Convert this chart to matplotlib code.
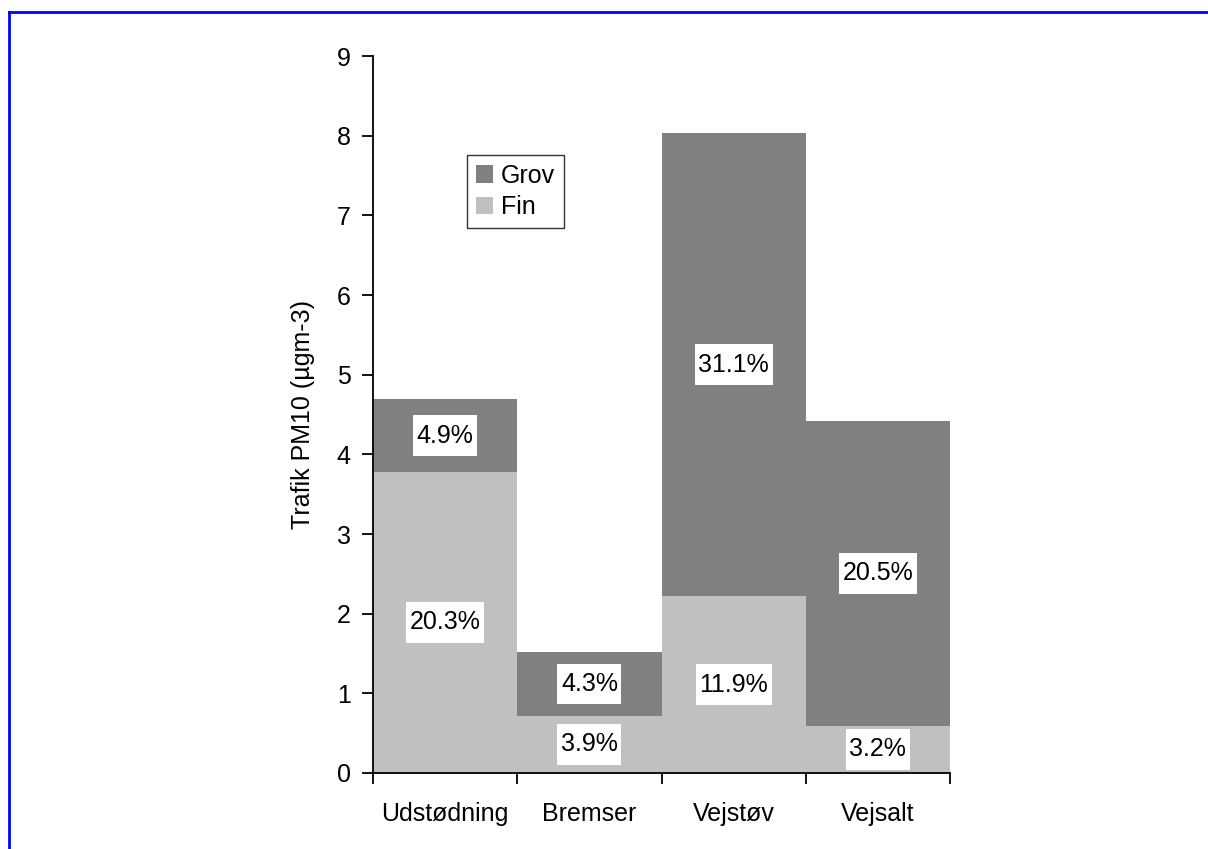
import matplotlib
matplotlib.use("Agg")
import matplotlib.pyplot as plt
from matplotlib.lines import Line2D
from matplotlib.path import Path
import numpy as np

plt.rcParams['font.family'] = ['Liberation Sans', 'DejaVu Sans']

# Traffic PM10 contributions per source (µg/m3)
sources = ["Udstødning", "Bremser", "Vejstøv", "Vejsalt"]
fin = [3.78, 0.72, 2.22, 0.59]
grov = [0.91, 0.80, 5.81, 3.83]

col_fin = "#C0C0C0"
col_grov = "#808080"
fs = 18


def label_box(x0, y0, width, height, mutation_size):
    """Square box, narrow at the sides and roomier above and below."""
    px = 0.14 * mutation_size
    py = 0.33 * mutation_size
    x0, y0 = x0 - px, y0 - py
    x1, y1 = x0 + width + 2 * px, y0 + height + 2 * py
    return Path([(x0, y0), (x1, y0), (x1, y1), (x0, y1), (x0, y0)],
                [Path.MOVETO, Path.LINETO, Path.LINETO, Path.LINETO, Path.CLOSEPOLY])


fig = plt.figure(figsize=(12.08, 8.49), dpi=100)
ax = fig.add_axes([373 / 1208, 1 - 773 / 849, 577 / 1208, 717 / 849])

x = np.arange(len(sources))
b_fin = ax.bar(x, fin, width=1.0, color=col_fin, label="Fin", linewidth=0)
b_grov = ax.bar(x, grov, width=1.0, bottom=fin, color=col_grov, label="Grov", linewidth=0)

# Share of total, printed at the middle of each segment
total = sum(fin) + sum(grov)
for i in range(len(sources)):
    for bottom, h in ((0, fin[i]), (fin[i], grov[i])):
        ax.text(x[i], bottom + h / 2, f"{h / total * 100:.1f}%", ha="center", va="center",
                fontsize=fs, color="black",
                bbox=dict(boxstyle=label_box, facecolor="white", edgecolor="none"))

ax.set_xlim(-0.5, len(sources) - 0.5)
ax.set_ylim(0, 9)
ax.set_yticks(range(0, 10))
ax.tick_params(axis="y", labelsize=fs, length=8, width=1.3, direction="out", pad=8)

# Category boundaries carry the tick marks, names sit in between
ax.set_xticks(np.arange(-0.5, len(sources)), minor=False)
ax.set_xticklabels([])
ax.set_xticks(x, minor=True)
ax.set_xticklabels(sources, minor=True)
ax.tick_params(axis="x", which="major", length=8, width=1.3, direction="out")
ax.tick_params(axis="x", which="minor", length=0, labelsize=fs, pad=21)

for s in ("top", "right"):
    ax.spines[s].set_visible(False)
for s in ("left", "bottom"):
    ax.spines[s].set_linewidth(1.3)

ax.set_ylabel("Trafik PM10 (µgm-3)", fontsize=fs, labelpad=16)

handles = [b_grov, b_fin]
leg = ax.legend(handles, ["Grov", "Fin"], loc="upper left", bbox_to_anchor=(0.163, 0.862),
                fontsize=fs, frameon=True, fancybox=False, handlelength=0.7, handleheight=0.7,
                handletextpad=0.3, borderpad=0.35, labelspacing=0.3, borderaxespad=0)
leg.get_frame().set_edgecolor("black")
leg.get_frame().set_linewidth(1.0)

# Blue frame along top and left of the figure
fig.add_artist(Line2D([9 / 1208, 1], [1 - 12 / 849, 1 - 12 / 849], transform=fig.transFigure,
                      color="#0000FF", linewidth=2))
fig.add_artist(Line2D([9 / 1208, 9 / 1208], [0, 1 - 12 / 849], transform=fig.transFigure,
                      color="#0000FF", linewidth=2))

fig.savefig("out.png", dpi=100)
